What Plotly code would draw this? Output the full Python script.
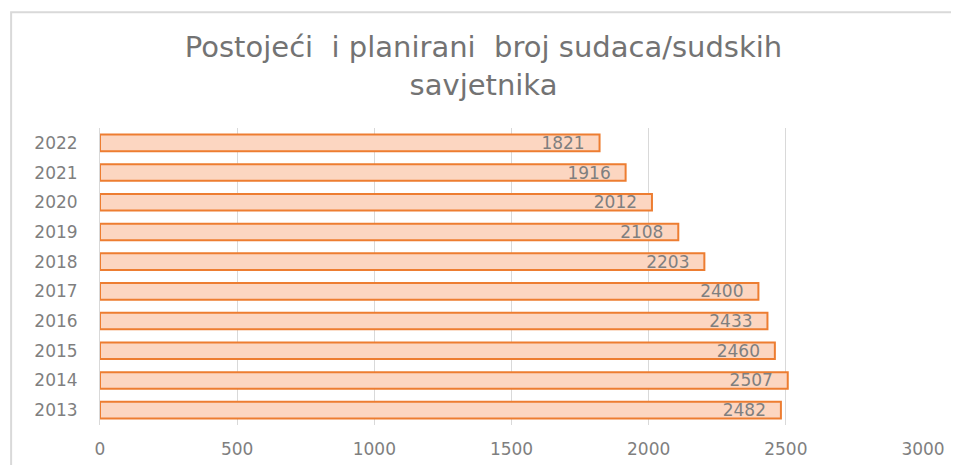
import plotly.graph_objects as go

years = ["2013", "2014", "2015", "2016", "2017", "2018", "2019", "2020", "2021", "2022"]
values = [2482, 2507, 2460, 2433, 2400, 2203, 2108, 2012, 1916, 1821]
x_ticks = [0, 500, 1000, 1500, 2000, 2500, 3000]
title_text = "Postojeći  i planirani  broj sudaca/sudskih<br>savjetnika"

fig = go.Figure()
fig.add_trace(go.Bar(
    y=years, x=values, orientation="h",
    marker=dict(color="#FCD6C1", line=dict(color="#ED7D31", width=2)),
    text=[f"{v}\u2002\u2009" for v in values], textposition="inside", insidetextanchor="end",
    textfont=dict(color="#7F7F7F", size=17, family="DejaVu Sans"),
    cliponaxis=False,
))

fig.update_layout(
    width=951, height=457,
    margin=dict(l=92, r=36, t=120, b=40, autoexpand=False),
    paper_bgcolor="white", plot_bgcolor="white",
    bargap=0.44,
    showlegend=False,
    title=dict(text=title_text, x=0.5, xanchor="center", y=0.893, yanchor="middle",
               font=dict(family="DejaVu Sans", size=29, color="#737373")),
    xaxis=dict(range=[0, 3000], tickvals=x_ticks, showgrid=True, gridcolor="#D9D9D9", gridwidth=1,
               zeroline=False, showline=False, automargin=False, ticklabelstandoff=12,
               tickfont=dict(family="DejaVu Sans", size=17, color="#7F7F7F"), ticks="", ticklen=0),
    yaxis=dict(showgrid=False, showline=True, linecolor="#D9D9D9", linewidth=1, automargin=False,
               tickfont=dict(family="DejaVu Sans", size=17, color="#7F7F7F"), ticks="", ticklabelstandoff=18),
    shapes=[dict(type="rect", xref="paper", yref="paper", x0=-0.108, x1=1.1, y0=-0.2, y1=1.39,
                 line=dict(color="#D9D9D9", width=2), fillcolor="rgba(0,0,0,0)", layer="below")],
    uniformtext=dict(mode="show", minsize=17),
)

fig.write_html("out.html")
